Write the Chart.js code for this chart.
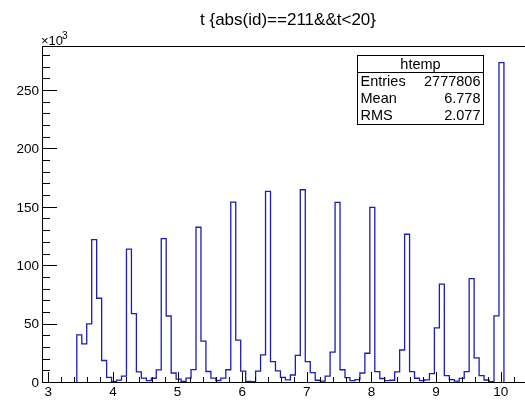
<!DOCTYPE html>
<html><head><meta charset="utf-8">
<script src="https://cdn.jsdelivr.net/npm/chart.js@4"></script>
<style>html,body{margin:0;padding:0;background:#fff;overflow:hidden}canvas{display:block}</style>
</head><body>
<canvas id="c" width="525" height="413"></canvas>
<script>
// ---- data (counts in thousands, bin layout) ----
const titleText = "t {abs(id)==211&&t<20}";
const binLow = 3.441;      // left edge of first listed bin
const binWidth = 0.07685;  // bin width
const counts = [
  40.4, 32.6, 49.8, 121.9, 71.7, 18.4, 3.9, 0.3, 1.6, 5.0,
  113.7, 58.5, 8.7, 3.3, 1.1, 3.2, 10.4, 122.7, 56.5, 7.7,
  2.4, 0.5, 3.4, 10.6, 132.5, 35.0, 9.0, 3.4, 1.3, 3.4,
  10.5, 154.0, 35.8, 9.3, 0.5, 0.4, 9.3, 23.3, 163.2, 17.4,
  9.6, 4.0, 1.8, 6.0, 22.8, 164.6, 17.4, 8.0, 1.5, 0.8,
  5.0, 25.5, 153.8, 10.5, 3.7, 1.2, 2.0, 7.7, 24.6, 149.6,
  8.9, 3.0, 1.2, 1.5, 8.6, 27.4, 126.5, 8.9, 3.2, 1.2,
  1.8, 7.1, 46.3, 83.8, 5.5, 2.0, 0.7, 3.1, 8.9, 88.6,
  20.6, 5.5, 1.7, 0.3, 56.7, 273.5
];
const xTickValues = [3, 4, 5, 6, 7, 8, 9, 10];
const xTickLabels = ["3", "4", "5", "6", "7", "8", "9", "10"];
const yTickValues = [0, 50, 100, 150, 200, 250];
const yTickLabels = ["0", "50", "100", "150", "200", "250"];
const statsRows = [["Entries", "2777806"], ["Mean", "6.778"], ["RMS", "2.077"]];
const statsName = "htemp";

// build step outline points from the arrays
const pts = [{x: binLow, y: 0}];
counts.forEach((v, i) => pts.push({x: binLow + i * binWidth, y: v}));
pts.push({x: binLow + counts.length * binWidth, y: 0});

const FONT = '"Liberation Sans", Arial, Helvetica, sans-serif';

const rootDeco = {
  id: 'rootDeco',
  afterDraw(chart) {
    const ctx = chart.ctx, xs = chart.scales.x, ys = chart.scales.y, a = chart.chartArea;
    ctx.save();
    // frame
    ctx.strokeStyle = '#000'; ctx.lineWidth = 1;
    ctx.beginPath();
    ctx.moveTo(a.left + 0.5, a.top + 0.5); ctx.lineTo(a.right, a.top + 0.5);
    ctx.moveTo(a.left + 0.5, a.top); ctx.lineTo(a.left + 0.5, a.bottom + 0.5);
    ctx.moveTo(a.left, a.bottom + 0.5); ctx.lineTo(a.right, a.bottom + 0.5);
    ctx.stroke();
    // y ticks (inside)
    ctx.beginPath();
    for (let v = 0; v <= ys.max; v += 10) {
      const y = Math.round(ys.getPixelForValue(v)) + 0.5;
      const len = (v % 50 === 0) ? 15 : 8;
      ctx.moveTo(a.left, y); ctx.lineTo(a.left + len, y);
    }
    // x ticks (inside)
    for (let k = 0; k <= 36; k++) {
      const v = 3 + k * 0.2;
      if (v > xs.max) break;
      const x = Math.round(xs.getPixelForValue(v)) + 0.5;
      const len = (k % 5 === 0) ? 10 : 5;
      ctx.moveTo(x, a.bottom); ctx.lineTo(x, a.bottom - len);
    }
    ctx.stroke();
    // tick labels
    ctx.fillStyle = '#000';
    ctx.font = '13.5px ' + FONT;
    ctx.textAlign = 'right'; ctx.textBaseline = 'middle';
    yTickValues.forEach((v, i) => ctx.fillText(yTickLabels[i], a.left - 3, ys.getPixelForValue(v) + 1));
    ctx.textAlign = 'center'; ctx.textBaseline = 'top';
    xTickValues.forEach((v, i) => ctx.fillText(xTickLabels[i], xs.getPixelForValue(v), a.bottom + 4));
    // exponent
    ctx.textAlign = 'left'; ctx.textBaseline = 'alphabetic';
    ctx.font = '13px ' + FONT;
    ctx.fillText('\u00d710', a.left - 1, a.top - 1);
    ctx.font = '10px ' + FONT;
    ctx.fillText('3', a.left + 20, a.top - 7);
    // title
    ctx.font = '17px ' + FONT;
    ctx.textAlign = 'center'; ctx.textBaseline = 'middle';
    ctx.fillText(titleText, 288, 20);
    // stats box
    const bx = 357.5, by = 55.5, bw = 126, bh = 69, hh = 17;
    ctx.fillStyle = '#fff';
    ctx.fillRect(bx, by, bw, bh);
    ctx.strokeStyle = '#000';
    ctx.strokeRect(bx, by, bw, bh);
    ctx.beginPath(); ctx.moveTo(bx, by + hh); ctx.lineTo(bx + bw, by + hh); ctx.stroke();
    ctx.fillStyle = '#000';
    ctx.font = '14.5px ' + FONT;
    ctx.textAlign = 'center'; ctx.textBaseline = 'middle';
    ctx.fillText(statsName, bx + bw / 2, by + hh / 2 + 0.5);
    const rh = (bh - hh) / statsRows.length;
    statsRows.forEach((r, i) => {
      const yy = by + hh + rh * (i + 0.5) + 0.5;
      ctx.textAlign = 'left'; ctx.fillText(r[0], bx + 3, yy);
      ctx.textAlign = 'right'; ctx.fillText(r[1], bx + bw - 3, yy);
    });
    ctx.restore();
  }
};

new Chart(document.getElementById('c'), {
  type: 'line',
  data: {
    datasets: [{
      data: pts,
      stepped: 'before',
      borderColor: '#1c1cb8',
      borderWidth: 1.3,
      pointRadius: 0,
      fill: false,
      tension: 0
    }]
  },
  options: {
    responsive: false,
    animation: false,
    events: [],
    layout: {padding: {left: 42, top: 46, right: 0, bottom: 31}},
    plugins: {legend: {display: false}, tooltip: {enabled: false}, title: {display: false}},
    scales: {
      x: {type: 'linear', min: 2.9025, max: 10.376, display: false},
      y: {type: 'linear', min: 0, max: 287.7, display: false}
    }
  },
  plugins: [rootDeco]
});
</script>
</body></html>
